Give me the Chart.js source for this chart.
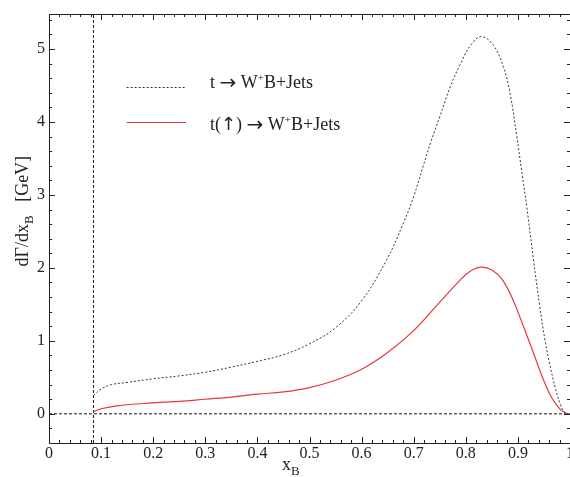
<!DOCTYPE html>
<html><head><meta charset="utf-8">
<script src="https://cdn.jsdelivr.net/npm/chart.js@4.4.1/dist/chart.umd.min.js"></script>
<style>
html,body{margin:0;padding:0;background:#fff;overflow:hidden;width:570px;height:477px}
#wrap{width:580px;height:477px}
</style></head>
<body><div id="wrap"><canvas id="c" width="580" height="477"></canvas></div>
<script>
// ---- data ----
const xTotal = [0.0853,0.10,0.12,0.15,0.20,0.25,0.30,0.35,0.40,0.45,0.50,0.55,0.60,0.648,0.68,0.70,0.718,0.734,0.75,0.77,0.79,0.81,0.83,0.853,0.872,0.885,0.898,0.907,0.917,0.93,0.942,0.952,0.962,0.972,0.982,0.99,0.997];
const yTotal = [0.25,0.34,0.40,0.43,0.48,0.52,0.57,0.64,0.72,0.81,0.96,1.18,1.55,2.11,2.61,2.98,3.39,3.75,4.07,4.48,4.80,5.06,5.17,5.05,4.76,4.39,3.80,3.34,2.84,2.11,1.47,1.01,0.65,0.35,0.12,0.02,0.0];
const xPolar = [0.0853,0.10,0.13,0.20,0.25,0.30,0.35,0.40,0.45,0.50,0.55,0.60,0.65,0.70,0.75,0.79,0.81,0.83,0.85,0.87,0.89,0.91,0.93,0.95,0.965,0.98,0.99,0.997];
const yPolar = [0.03,0.07,0.11,0.15,0.17,0.20,0.23,0.27,0.30,0.36,0.46,0.61,0.84,1.14,1.53,1.84,1.96,2.01,1.97,1.84,1.57,1.21,0.83,0.45,0.22,0.07,0.015,0.0];
const xThreshold = 0.0853;
const xRange = [0, 1];
const yRange = [-0.4, 5.48];
const xTickValues = [0,0.1,0.2,0.3,0.4,0.5,0.6,0.7,0.8,0.9,1];
const xTickLabels = ['0','0.1','0.2','0.3','0.4','0.5','0.6','0.7','0.8','0.9','1'];
const yTickValues = [0,1,2,3,4,5];
const yTickLabels = ['0','1','2','3','4','5'];
const SYM = '"DejaVu Sans", sans-serif';
const seriesNames = [
  [{t:'t ',size:18},{t:'\u2192',size:20,font:SYM,dy:1},{t:' W',size:18},{t:'+',size:11,dy:-7},{t:'B+Jets',size:18}],
  [{t:'t(',size:18},{t:'\u2191',size:18,font:SYM},{t:') ',size:18},{t:'\u2192',size:20,font:SYM,dy:1},{t:' W',size:18},{t:'+',size:11,dy:-7},{t:'B+Jets',size:18}]
];
const xTitle = [{t:'x',size:18},{t:'B',size:13,dy:5}];
const yTitle = [{t:'d\u0393/dx',size:18},{t:'B',size:13,dy:5},{t:'   [GeV]',size:18}];

const FONT = '"Liberation Serif", "Times New Roman", serif';
const TXT = '#222';
const toPts = (xs, ys) => xs.map((x, i) => ({x, y: ys[i]}));

function drawParts(ctx, parts, x, y) {
  for (const p of parts) {
    ctx.font = p.size + 'px ' + (p.font || FONT);
    ctx.fillText(p.t, x, y + (p.dy || 0));
    x += ctx.measureText(p.t).width;
  }
  return x;
}

const decor = {
  id: 'decor',
  afterDraw(chart) {
    const {ctx, chartArea: a, scales: {x, y}} = chart;
    ctx.save();
    ctx.strokeStyle = '#222';
    ctx.lineWidth = 1;
    ctx.setLineDash([]);
    ctx.strokeRect(a.left + 0.5, a.top + 0.5, a.right - a.left, a.bottom - a.top);
    // inward ticks on all four sides
    ctx.beginPath();
    for (let i = 0; i <= 50; i++) {
      const px = Math.round(x.getPixelForValue(i / 50)) + 0.5;
      const len = (i % 5 === 0) ? 6 : 3;
      ctx.moveTo(px, a.bottom); ctx.lineTo(px, a.bottom - len);
      ctx.moveTo(px, a.top); ctx.lineTo(px, a.top + len);
    }
    for (let i = -2; i <= 27; i++) {
      const v = i * 0.2;
      if (v < yRange[0] || v > yRange[1]) continue;
      const py = Math.round(y.getPixelForValue(v)) + 0.5;
      const len = (i % 5 === 0) ? 6 : 3;
      ctx.moveTo(a.left, py); ctx.lineTo(a.left + len, py);
      ctx.moveTo(a.right, py); ctx.lineTo(a.right - len, py);
    }
    ctx.stroke();

    // legend
    const ds = chart.data.datasets;
    const lx0 = x.getPixelForValue(0.149), lx1 = x.getPixelForValue(0.263);
    const tx = x.getPixelForValue(0.309);
    const rows = [{ly: y.getPixelForValue(4.48), ty: y.getPixelForValue(4.46)},
                  {ly: y.getPixelForValue(4.0), ty: y.getPixelForValue(3.89)}];
    rows.forEach((r, i) => {
      ctx.beginPath();
      ctx.strokeStyle = ds[i].borderColor;
      ctx.lineWidth = ds[i].borderWidth;
      ctx.setLineDash(ds[i].borderDash || []);
      ctx.moveTo(lx0, Math.round(r.ly) + 0.5); ctx.lineTo(lx1, Math.round(r.ly) + 0.5);
      ctx.stroke();
      ctx.fillStyle = TXT;
      ctx.textBaseline = 'alphabetic';
      ctx.textAlign = 'left';
      drawParts(ctx, seriesNames[i], tx, r.ty);
    });
    ctx.setLineDash([]);

    // axis titles
    ctx.fillStyle = TXT;
    drawParts(ctx, xTitle, x.getPixelForValue(0.447), a.bottom + 27);
    ctx.translate(28, y.getPixelForValue(2.02));
    ctx.rotate(-Math.PI / 2);
    drawParts(ctx, yTitle, 0, 0);
    ctx.restore();
  }
};

new Chart(document.getElementById('c'), {
  type: 'line',
  data: {
    datasets: [
      {data: toPts(xTotal, yTotal), borderColor: '#333', borderWidth: 1, borderDash: [2, 2], pointRadius: 0, tension: 0.4, fill: false},
      {data: toPts(xPolar, yPolar), borderColor: '#e8383a', borderWidth: 1.2, pointRadius: 0, tension: 0.4, fill: false},
      {data: [{x: xThreshold, y: yRange[0]}, {x: xThreshold, y: yRange[1]}], borderColor: '#111', borderWidth: 1, borderDash: [3, 2], pointRadius: 0, fill: false},
      {data: [{x: xRange[0], y: 0}, {x: xRange[1], y: 0}], borderColor: '#111', borderWidth: 1, borderDash: [3, 2], pointRadius: 0, fill: false}
    ]
  },
  options: {
    responsive: false, animation: false, devicePixelRatio: 1,
    layout: {padding: {top: 14, right: 10, left: 0, bottom: 0}},
    plugins: {legend: {display: false}, tooltip: {enabled: false}},
    scales: {
      x: {
        type: 'linear', min: xRange[0], max: xRange[1],
        grid: {display: false, drawTicks: false}, border: {display: false},
        afterBuildTicks: s => { s.ticks = xTickValues.map(v => ({value: v})); },
        ticks: {font: {family: FONT, size: 16}, color: TXT, padding: 1, maxRotation: 0, autoSkip: false,
                callback: (v, i) => xTickLabels[i]},
        afterFit: s => { s.height = 34; }
      },
      y: {
        type: 'linear', min: yRange[0], max: yRange[1],
        grid: {display: false, drawTicks: false}, border: {display: false},
        afterBuildTicks: s => { s.ticks = yTickValues.map(v => ({value: v})); },
        ticks: {font: {family: FONT, size: 16}, color: TXT, padding: 4, autoSkip: false,
                callback: (v, i) => yTickLabels[i]},
        afterFit: s => { s.width = 49; }
      }
    }
  },
  plugins: [decor]
});
</script>
</body></html>
